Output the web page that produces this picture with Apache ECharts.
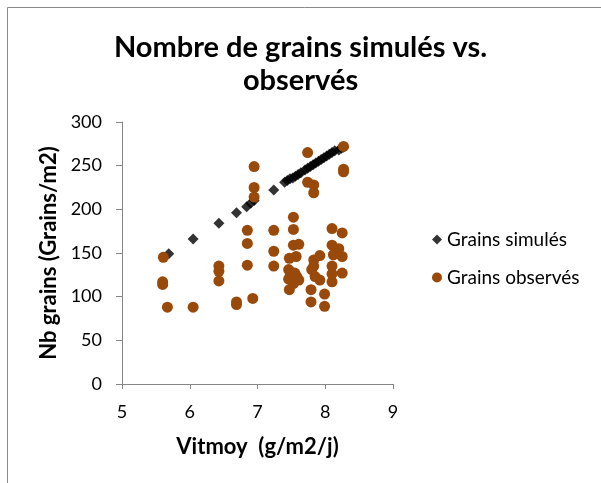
<!DOCTYPE html>
<html>
<head>
<meta charset="utf-8">
<script src="https://cdn.jsdelivr.net/npm/echarts@6/dist/echarts.min.js"></script>
<style>
  html, body { margin: 0; padding: 0; background: #fff; }
  #chart { width: 601px; height: 483px; }
</style>
</head>
<body>
<div id="chart"></div>
<script>
// valeurs
var simX = [5.69, 6.05, 6.43, 6.69, 6.84, 6.90, 6.95, 7.24, 7.40, 7.44, 7.48, 7.52, 7.56, 7.60, 7.64,
  7.70, 7.74, 7.78, 7.82, 7.86, 7.90, 7.94, 7.98, 8.02, 8.06, 8.10, 8.14, 8.20, 8.24, 8.27];
var simY = [149, 166, 184, 196, 203, 207, 210, 222, 231, 233, 235, 236, 238, 240, 242,
  245, 247, 249, 251, 253, 255, 257, 259, 261, 263, 265, 267, 268, 270, 271];

var obsX = [5.61, 5.60, 5.60, 5.67, 6.05, 6.43, 6.43, 6.43, 6.69, 6.69, 6.85, 6.85, 6.85, 6.93, 6.95, 6.95, 6.95,
  7.24, 7.24, 7.24, 7.53, 7.53, 7.53, 7.61, 7.57, 7.47, 7.46, 7.48, 7.58, 7.61, 7.53, 7.47, 7.46, 7.55,
  7.74, 7.74, 7.83, 7.83, 7.83, 7.92, 7.80, 7.83, 7.85, 7.92, 7.79, 7.79, 7.99, 7.99,
  8.10, 8.25, 8.10, 8.20, 8.25, 8.12, 8.10, 8.25, 8.10, 8.10, 8.27, 8.27, 8.27];
var obsY = [145, 117, 114, 88, 88, 135, 129, 118, 94, 91, 176, 161, 136, 98, 249, 225, 214,
  176, 152, 135, 191, 177, 159, 160, 146, 144, 131, 123, 123, 119, 115, 108, 120, 127,
  265, 231, 228, 219, 142, 147, 131, 135, 123, 119, 108, 94, 103, 89,
  178, 173, 159, 155, 146, 148, 135, 127, 117, 126, 272, 246, 243];

var xTicks = [5, 9, 1];   // min, max, pas
var yTicks = [0, 300, 50];

var seriesNames = ['Grains simulés', 'Grains observés'];

function pairs(xs, ys) {
  var out = [];
  for (var i = 0; i < xs.length; i++) out.push([xs[i], ys[i]]);
  return out;
}

var axisGray = '#868686';
var font = 'Lato';

var myChart = echarts.init(document.getElementById('chart'));
var option = {
  backgroundColor: '#fff',
  animation: false,
  textStyle: { fontFamily: font },
  title: {
    text: 'Nombre de grains simulés vs.\nobservés',
    left: 'center', top: 26,
    textStyle: { fontFamily: font, fontSize: 29, fontWeight: 'bold', color: '#000', lineHeight: 33 }
  },
  graphic: [{
    type: 'rect',
    shape: { x: 7.5, y: 7.5, width: 700, height: 700 },
    style: { fill: 'none', stroke: '#898989', lineWidth: 1 },
    silent: true
  }],
  legend: {
    orient: 'vertical',
    left: 427, top: 225,
    itemGap: 19,
    itemWidth: 10, itemHeight: 10,
    textStyle: { fontFamily: font, fontSize: 19, color: '#000' },
    data: [
      { name: seriesNames[0], icon: 'diamond' },
      { name: seriesNames[1], icon: 'circle' }
    ]
  },
  grid: { left: 122, top: 122, width: 271, height: 262 },
  xAxis: {
    type: 'value',
    min: xTicks[0], max: xTicks[1], interval: xTicks[2],
    name: 'Vitmoy  (g/m2/j)',
    nameLocation: 'middle',
    nameGap: 52,
    nameTextStyle: { fontFamily: font, fontSize: 22, fontWeight: 'bold', color: '#000' },
    axisLine: { lineStyle: { color: axisGray } },
    axisTick: { show: true, length: 5, lineStyle: { color: axisGray } },
    axisLabel: { fontFamily: font, fontSize: 18, color: '#000', margin: 19 },
    splitLine: { show: false }
  },
  yAxis: {
    type: 'value',
    min: yTicks[0], max: yTicks[1], interval: yTicks[2],
    name: 'Nb grains (Grains/m2)',
    nameLocation: 'middle',
    nameGap: 62,
    nameTextStyle: { fontFamily: font, fontSize: 22, fontWeight: 'bold', color: '#000' },
    axisLine: { show: true, lineStyle: { color: axisGray } },
    axisTick: { show: true, length: 6, lineStyle: { color: axisGray } },
    axisLabel: { fontFamily: font, fontSize: 18, color: '#000', margin: 20 },
    splitLine: { show: false }
  },
  series: [{
    name: seriesNames[0],
    type: 'scatter',
    symbol: 'diamond',
    symbolSize: 11,
    itemStyle: { color: '#000' },
    data: pairs(simX, simY)
  }, {
    name: seriesNames[1],
    type: 'scatter',
    symbol: 'circle',
    symbolSize: 11,
    itemStyle: { color: '#994A0A', opacity: 1 },
    data: pairs(obsX, obsY)
  }]
};
myChart.setOption(option);
</script>
</body>
</html>
